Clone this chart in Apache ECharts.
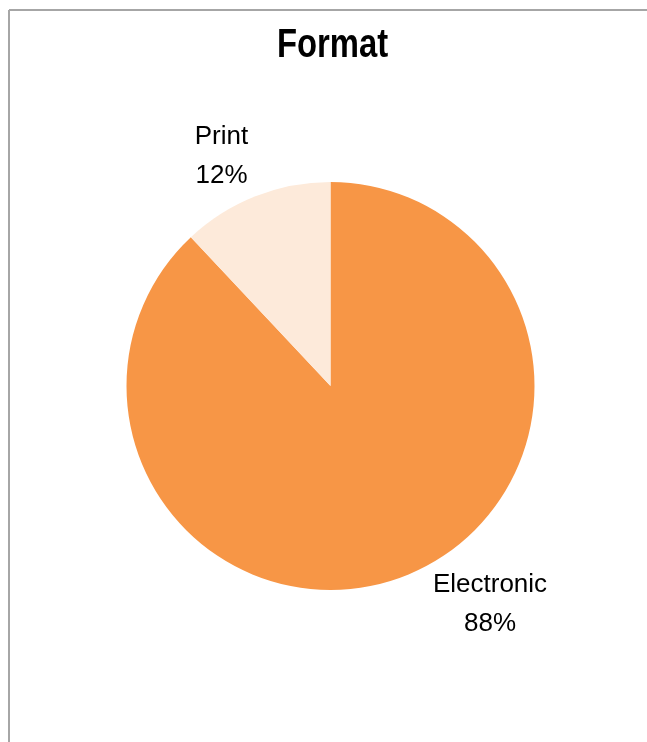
<!DOCTYPE html>
<html>
<head>
<meta charset="utf-8">
<script src="https://cdn.jsdelivr.net/npm/echarts@6/dist/echarts.min.js"></script>
<style>
html,body{margin:0;padding:0;background:#fff;}
#chart{width:647px;height:742px;}
</style>
</head>
<body>
<div id="chart"></div>
<script>
const titleText = 'Format';
const categories = ['Electronic', 'Print'];
const values = [88, 12];
const colors = ['#F79646', '#FDEADA'];

const FONT = '"Liberation Sans", Arial, sans-serif';
const CX = 330.5, CY = 386, R = 204;
// label placement offsets from the pie centre (layout, not data)
const labelOffsets = [[159.5, 218], [-109, -230]];

const chart = echarts.init(document.getElementById('chart'), null, {renderer: 'canvas'});

chart.setOption({
  backgroundColor: '#ffffff',
  animation: false,
  graphic: [
    {type: 'line', shape: {x1: 9, y1: 10, x2: 647, y2: 10}, style: {stroke: '#a6a6a6', lineWidth: 2}},
    {type: 'line', shape: {x1: 9, y1: 10, x2: 9, y2: 742}, style: {stroke: '#a6a6a6', lineWidth: 2}},
    {type: 'text', x: 332.5, y: 46, scaleX: 0.82,
     style: {text: titleText, x: 0, y: 0, font: 'bold 40px ' + FONT, fill: '#000',
             textAlign: 'center', textVerticalAlign: 'middle'}}
  ],
  series: [{
    type: 'pie',
    center: [CX, CY],
    radius: [0, R],
    startAngle: 90,
    clockwise: true,
    data: categories.map((c, i) => ({name: c, value: values[i], itemStyle: {color: colors[i]}})),
    label: {
      show: true,
      position: 'outside',
      formatter: p => p.name + '\n' + Math.round(p.percent) + '%',
      fontFamily: FONT,
      fontSize: 26,
      lineHeight: 39,
      color: '#000',
      align: 'center'
    },
    labelLine: {show: false, length: 20, length2: 0},
    labelLayout: p => ({
      x: CX + labelOffsets[p.dataIndex][0],
      y: CY + labelOffsets[p.dataIndex][1],
      align: 'center',
      verticalAlign: 'middle'
    }),
    emphasis: {disabled: true}
  }]
});
</script>
</body>
</html>
